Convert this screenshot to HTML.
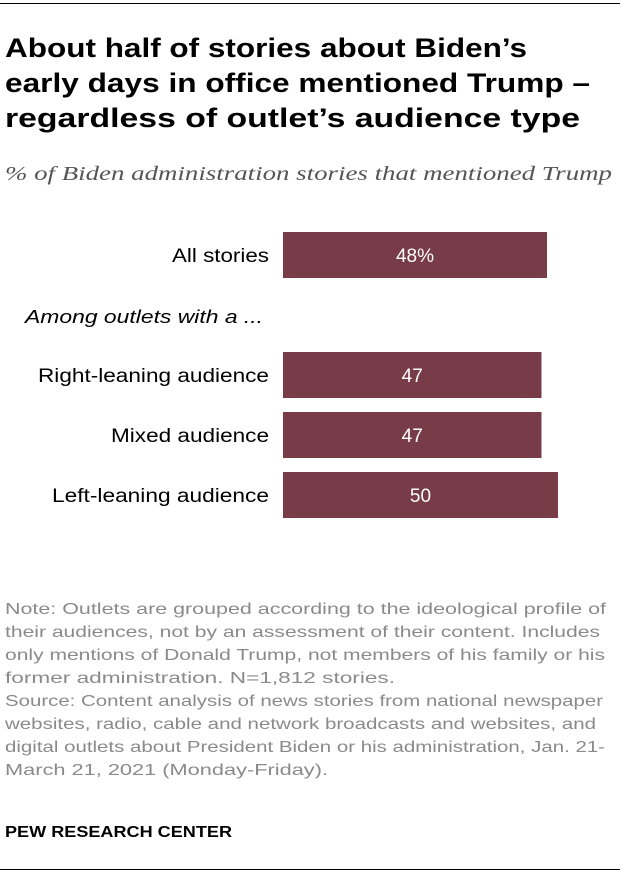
<!DOCTYPE html>
<html><head><meta charset="utf-8"><style>
body{margin:0;width:620px;height:874px;background:#fff;font-family:"Liberation Sans",sans-serif;position:relative;overflow:hidden}
svg{position:absolute;left:0;top:0}
</style></head><body>
<svg width="620" height="874" id="chart" font-family="Liberation Sans, sans-serif">
<rect x="0" y="3" width="620" height="1" fill="#000"/>
<g font-size="27" font-weight="bold" fill="#000">
<text x="5" y="57" textLength="522" lengthAdjust="spacingAndGlyphs">About half of stories about Biden’s</text>
<text x="5" y="92" textLength="585" lengthAdjust="spacingAndGlyphs">early days in office mentioned Trump –</text>
<text x="5" y="127" textLength="575" lengthAdjust="spacingAndGlyphs">regardless of outlet’s audience type</text>
</g>
<text x="5" y="180" font-family="Liberation Serif, serif" font-style="italic" font-size="20" fill="#555" textLength="607" lengthAdjust="spacingAndGlyphs">% of Biden administration stories that mentioned Trump</text>
<text x="25" y="323" font-style="italic" font-size="18" fill="#000" textLength="238" lengthAdjust="spacingAndGlyphs">Among outlets with a ...</text>
<g font-size="16" fill="#8a8a8a">
<text x="5" y="614" textLength="601" lengthAdjust="spacingAndGlyphs">Note: Outlets are grouped according to the ideological profile of</text>
<text x="5" y="637" textLength="595" lengthAdjust="spacingAndGlyphs">their audiences, not by an assessment of their content. Includes</text>
<text x="5" y="660" textLength="600" lengthAdjust="spacingAndGlyphs">only mentions of Donald Trump, not members of his family or his</text>
<text x="5" y="683" textLength="390" lengthAdjust="spacingAndGlyphs">former administration. N=1,812 stories.</text>
<text x="5" y="706" textLength="598" lengthAdjust="spacingAndGlyphs">Source: Content analysis of news stories from national newspaper</text>
<text x="5" y="729" textLength="591" lengthAdjust="spacingAndGlyphs">websites, radio, cable and network broadcasts and websites, and</text>
<text x="5" y="752" textLength="600" lengthAdjust="spacingAndGlyphs">digital outlets about President Biden or his administration, Jan. 21-</text>
<text x="5" y="775" textLength="323" lengthAdjust="spacingAndGlyphs">March 21, 2021 (Monday-Friday).</text>
</g>
<text x="5" y="837" font-size="16" font-weight="bold" fill="#000" textLength="227" lengthAdjust="spacingAndGlyphs">PEW RESEARCH CENTER</text>
<rect x="0" y="869" width="620" height="1" fill="#000"/>
</svg>
<script>
const categories=["All stories","Right-leaning audience","Mixed audience","Left-leaning audience"];
const values=[48,47,47,50];
const valueLabels=["48%","47","47","50"];
const labelWidths=[97,231,158,217];
const rowTops=[232,352,412,472];
const x0=283, scale=5.5, bh=46;
const xs=v=>x0+v*scale;
const svg=document.getElementById('chart');
const NS="http://www.w3.org/2000/svg";
categories.forEach((c,i)=>{
 const r=document.createElementNS(NS,'rect');
 r.setAttribute('x',x0);r.setAttribute('y',rowTops[i]);
 r.setAttribute('width',xs(values[i])-x0);r.setAttribute('height',bh);
 r.setAttribute('fill','#783c48');
 
 
 svg.appendChild(r);
 const t=document.createElementNS(NS,'text');
 t.setAttribute('x',(x0+xs(values[i]))/2);t.setAttribute('y',rowTops[i]+bh/2+7);
 t.setAttribute('text-anchor','middle');t.setAttribute('fill','#fff');t.setAttribute('font-size','19');
 t.textContent=valueLabels[i];
 
 
 svg.appendChild(t);
 const l=document.createElementNS(NS,'text');
 l.setAttribute('x',269-labelWidths[i]);l.setAttribute('y',rowTops[i]+bh/2+7);
 l.setAttribute('fill','#000');l.setAttribute('font-size','19');
 l.setAttribute('textLength',labelWidths[i]);l.setAttribute('lengthAdjust','spacingAndGlyphs');
 l.textContent=c;
 
 
 svg.appendChild(l);
});
</script>
</body></html>
